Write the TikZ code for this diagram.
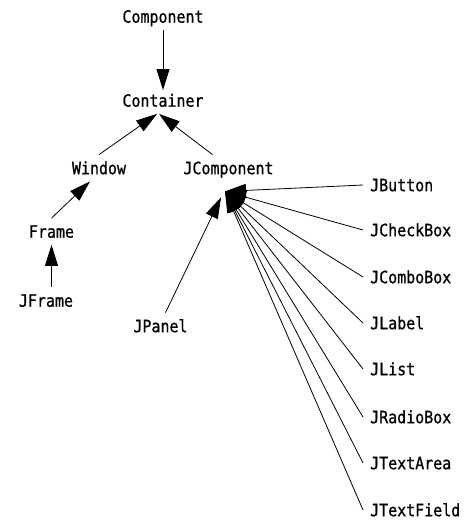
\documentclass[tikz,border=0pt]{standalone}
\usepackage{fontspec}
\newfontfamily\diagfont{DejaVu Sans Mono}[FakeStretch=0.88,FakeBold=0.8]
\usetikzlibrary{arrows.meta}

\begin{document}
\begin{tikzpicture}[x=1pt,y=-1pt,
	every node/.style={font=\diagfont\fontsize{17}{20}\selectfont,inner sep=7pt,text height=12.4pt,text depth=0pt},
	inherits/.style={->,>={Triangle[length=21pt,width=13pt]},line width=0.8pt}]
\useasboundingbox (0,0) rectangle (474,532);

\node (comp) at (163,16.5) {Component};
\node (cont) at (163,100.5) {Container};
\node (win) at (99,168) {Window};
\node (jcomp) at (228.5,168) {JComponent};
\node (frame) at (51.5,231.5) {Frame};
\node (jframe) at (46,300.5) {JFrame};
\node (jpanel) at (160.5,326) {JPanel};

\node[anchor=west] (jbutton) at (363,185) {JButton};
\node[anchor=west] (jcheckbox) at (363,230) {JCheckBox};
\node[anchor=west] (jcombobox) at (363,277) {JComboBox};
\node[anchor=west] (jlabel) at (363,323) {JLabel};
\node[anchor=west] (jlist) at (363,369) {JList};
\node[anchor=west] (jradiobox) at (363,417) {JRadioBox};
\node[anchor=west] (jtextarea) at (363,463) {JTextArea};
\node[anchor=west] (jtextfield) at (363,510) {JTextField};

\draw[inherits,shorten >=-3pt] (comp) -- (cont);
\draw[inherits] (win.north) -- ([xshift=-6pt]cont.south);
\draw[inherits] ([xshift=-16pt]jcomp.north) -- ([xshift=-4pt]cont.south);
\draw[inherits] (frame.north) -- ([xshift=-9pt]win.south);
\draw[inherits] (jframe.north -| frame) -- (frame.south);

\coordinate (jcfoot) at ([xshift=-3.5pt,yshift=-10pt]jcomp.south);
\coordinate (jcleft) at ([xshift=-7.5pt,yshift=-16pt]jcomp.south);
\draw[inherits] ([xshift=5pt]jpanel.north) -- (jcleft);
\foreach \x in {jbutton,jcheckbox,jcombobox,jlabel,jlist,jradiobox,jtextarea,jtextfield}
	\draw[inherits](\x.west)to(jcfoot);

\end{tikzpicture}
\end{document}
